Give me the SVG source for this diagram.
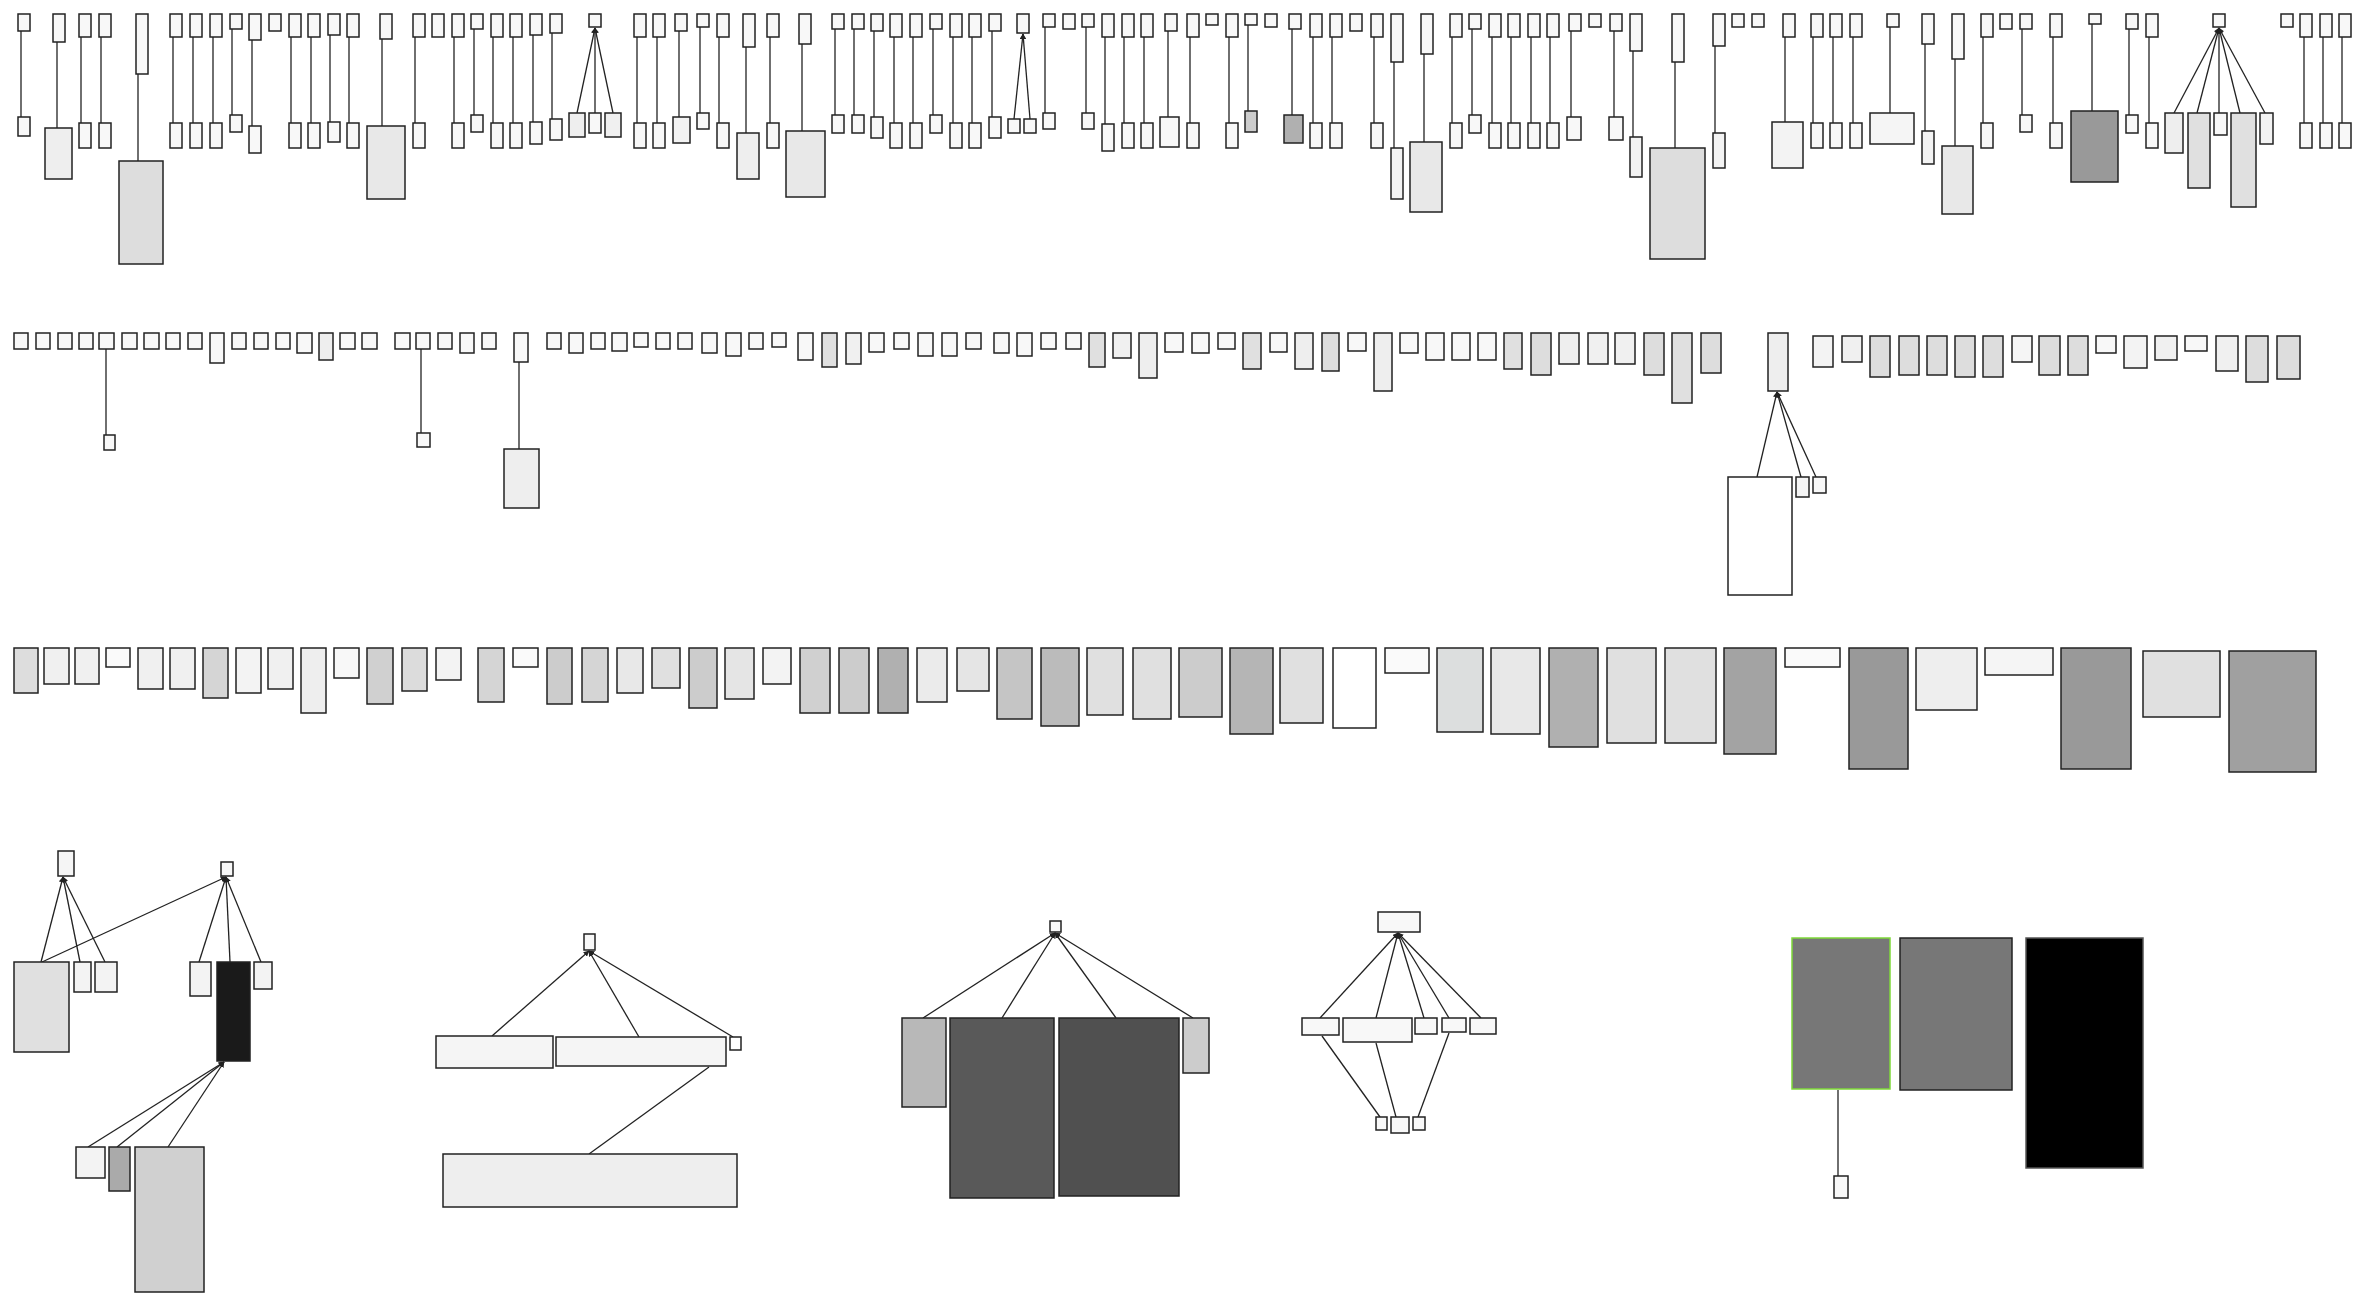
<svg xmlns="http://www.w3.org/2000/svg" width="2369" height="1295" viewBox="0 0 2369 1295">
<style>
rect{fill:#f8f8f8;stroke:#222;stroke-width:1.5}
.e line{stroke:#222;stroke-width:1.3;fill:none}
.f line{marker-end:url(#ar)}
</style>
<defs>
<marker id="ar" viewBox="0 0 10 10" refX="9" refY="5" markerWidth="4.5" markerHeight="4.5" orient="auto"><path d="M0,0L10,5L0,10z" fill="#222"/></marker>
</defs>
<rect x="0" y="0" width="2369" height="1295" style="fill:#fff;stroke:none"/>
<g id="edges" class="e">
<line x1="21" y1="31" x2="21" y2="117"/>
<line x1="57" y1="42" x2="57" y2="128"/>
<line x1="81" y1="37" x2="81" y2="123"/>
<line x1="101" y1="37" x2="101" y2="123"/>
<line x1="138" y1="74" x2="138" y2="161"/>
<line x1="173" y1="37" x2="173" y2="123"/>
<line x1="193" y1="37" x2="193" y2="123"/>
<line x1="213" y1="37" x2="213" y2="123"/>
<line x1="232" y1="29" x2="232" y2="115"/>
<line x1="252" y1="40" x2="252" y2="126"/>
<line x1="291" y1="37" x2="291" y2="123"/>
<line x1="311" y1="37" x2="311" y2="123"/>
<line x1="330" y1="35" x2="330" y2="122"/>
<line x1="349" y1="37" x2="349" y2="123"/>
<line x1="382" y1="39" x2="382" y2="126"/>
<line x1="415" y1="37" x2="415" y2="123"/>
<line x1="454" y1="37" x2="454" y2="123"/>
<line x1="474" y1="29" x2="474" y2="115"/>
<line x1="493" y1="37" x2="493" y2="123"/>
<line x1="513" y1="37" x2="513" y2="123"/>
<line x1="533" y1="35" x2="533" y2="122"/>
<line x1="552" y1="33" x2="552" y2="119"/>
<line x1="637" y1="37" x2="637" y2="123"/>
<line x1="657" y1="37" x2="657" y2="123"/>
<line x1="679" y1="31" x2="679" y2="117"/>
<line x1="700" y1="27" x2="700" y2="113"/>
<line x1="719" y1="37" x2="719" y2="123"/>
<line x1="746" y1="47" x2="746" y2="133"/>
<line x1="770" y1="37" x2="770" y2="123"/>
<line x1="802" y1="44" x2="802" y2="131"/>
<line x1="835" y1="29" x2="835" y2="115"/>
<line x1="854" y1="29" x2="854" y2="115"/>
<line x1="874" y1="31" x2="874" y2="117"/>
<line x1="894" y1="37" x2="894" y2="123"/>
<line x1="913" y1="37" x2="913" y2="123"/>
<line x1="933" y1="29" x2="933" y2="115"/>
<line x1="953" y1="37" x2="953" y2="123"/>
<line x1="972" y1="37" x2="972" y2="123"/>
<line x1="992" y1="31" x2="992" y2="117"/>
<line x1="1045" y1="27" x2="1045" y2="113"/>
<line x1="1086" y1="27" x2="1086" y2="113"/>
<line x1="1105" y1="37" x2="1105" y2="124"/>
<line x1="1124" y1="37" x2="1124" y2="123"/>
<line x1="1144" y1="37" x2="1144" y2="123"/>
<line x1="1168" y1="31" x2="1168" y2="117"/>
<line x1="1190" y1="37" x2="1190" y2="123"/>
<line x1="1229" y1="37" x2="1229" y2="123"/>
<line x1="1248" y1="25" x2="1248" y2="111"/>
<line x1="1292" y1="29" x2="1292" y2="115"/>
<line x1="1313" y1="37" x2="1313" y2="123"/>
<line x1="1332" y1="37" x2="1332" y2="123"/>
<line x1="1374" y1="37" x2="1374" y2="123"/>
<line x1="1394" y1="62" x2="1394" y2="148"/>
<line x1="1424" y1="54" x2="1424" y2="142"/>
<line x1="1452" y1="37" x2="1452" y2="123"/>
<line x1="1472" y1="29" x2="1472" y2="115"/>
<line x1="1492" y1="37" x2="1492" y2="123"/>
<line x1="1511" y1="37" x2="1511" y2="123"/>
<line x1="1531" y1="37" x2="1531" y2="123"/>
<line x1="1550" y1="37" x2="1550" y2="123"/>
<line x1="1571" y1="31" x2="1571" y2="117"/>
<line x1="1614" y1="31" x2="1614" y2="117"/>
<line x1="1633" y1="51" x2="1633" y2="137"/>
<line x1="1675" y1="62" x2="1675" y2="148"/>
<line x1="1715" y1="46" x2="1715" y2="133"/>
<line x1="1785" y1="37" x2="1785" y2="122"/>
<line x1="1813" y1="37" x2="1813" y2="123"/>
<line x1="1833" y1="37" x2="1833" y2="123"/>
<line x1="1853" y1="37" x2="1853" y2="123"/>
<line x1="1890" y1="27" x2="1890" y2="113"/>
<line x1="1925" y1="44" x2="1925" y2="131"/>
<line x1="1955" y1="59" x2="1955" y2="146"/>
<line x1="1983" y1="37" x2="1983" y2="123"/>
<line x1="2022" y1="29" x2="2022" y2="115"/>
<line x1="2053" y1="37" x2="2053" y2="123"/>
<line x1="2092" y1="24" x2="2092" y2="111"/>
<line x1="2129" y1="29" x2="2129" y2="115"/>
<line x1="2149" y1="37" x2="2149" y2="123"/>
<line x1="2304" y1="37" x2="2304" y2="123"/>
<line x1="2323" y1="37" x2="2323" y2="123"/>
<line x1="2342" y1="37" x2="2342" y2="123"/>
<line x1="106" y1="349" x2="106" y2="435"/>
<line x1="421" y1="349" x2="421" y2="433"/>
<line x1="519" y1="362" x2="519" y2="449"/>
<line x1="1838" y1="1090" x2="1838" y2="1176"/>
<line x1="589" y1="1154" x2="709" y2="1067"/>
<line x1="1380" y1="1117" x2="1322" y2="1036"/>
<line x1="1396" y1="1117" x2="1376" y2="1043"/>
<line x1="1418" y1="1117" x2="1449" y2="1033"/>
<g class="f">
<line x1="577" y1="113" x2="595" y2="28"/>
<line x1="595" y1="113" x2="595" y2="28"/>
<line x1="613" y1="113" x2="595" y2="28"/>
<line x1="1014" y1="119" x2="1023" y2="34"/>
<line x1="1030" y1="119" x2="1023" y2="34"/>
<line x1="2174" y1="113" x2="2219" y2="28"/>
<line x1="2197" y1="113" x2="2219" y2="28"/>
<line x1="2219" y1="113" x2="2219" y2="28"/>
<line x1="2240" y1="113" x2="2219" y2="28"/>
<line x1="2265" y1="113" x2="2219" y2="28"/>
<line x1="1757" y1="477" x2="1777" y2="392"/>
<line x1="1801" y1="477" x2="1777" y2="392"/>
<line x1="1816" y1="477" x2="1777" y2="392"/>
<line x1="41" y1="962" x2="63" y2="877"/>
<line x1="80" y1="962" x2="63" y2="877"/>
<line x1="105" y1="962" x2="63" y2="877"/>
<line x1="42" y1="962" x2="226" y2="877"/>
<line x1="199" y1="962" x2="226" y2="877"/>
<line x1="230" y1="962" x2="226" y2="877"/>
<line x1="261" y1="962" x2="226" y2="877"/>
<line x1="88" y1="1147" x2="224" y2="1062"/>
<line x1="117" y1="1147" x2="224" y2="1062"/>
<line x1="168" y1="1147" x2="224" y2="1062"/>
<line x1="492" y1="1036" x2="589" y2="951"/>
<line x1="639" y1="1037" x2="589" y2="951"/>
<line x1="733" y1="1037" x2="589" y2="951"/>
<line x1="923" y1="1018" x2="1055" y2="933"/>
<line x1="1002" y1="1018" x2="1055" y2="933"/>
<line x1="1116" y1="1018" x2="1055" y2="933"/>
<line x1="1193" y1="1018" x2="1055" y2="933"/>
<line x1="1320" y1="1018" x2="1398" y2="933"/>
<line x1="1376" y1="1018" x2="1398" y2="933"/>
<line x1="1424" y1="1018" x2="1398" y2="933"/>
<line x1="1449" y1="1018" x2="1398" y2="933"/>
<line x1="1481" y1="1018" x2="1398" y2="933"/>
</g>
</g>
<g id="row1">
<g id="a1"><rect x="18" y="14" width="12" height="17"/></g><g id="b1"><rect x="18" y="117" width="12" height="19"/></g>
<g id="a2"><rect x="53" y="14" width="12" height="28"/></g><g id="b2"><rect x="45" y="128" width="27" height="51" style="fill:#eee"/></g>
<g id="a3"><rect x="79" y="14" width="12" height="23"/></g><g id="b3"><rect x="79" y="123" width="12" height="25"/></g>
<g id="a4"><rect x="99" y="14" width="12" height="23"/></g><g id="b4"><rect x="99" y="123" width="12" height="25"/></g>
<g id="a5"><rect x="136" y="14" width="12" height="60"/></g><g id="b5"><rect x="119" y="161" width="44" height="103" style="fill:#ddd"/></g>
<g id="a6"><rect x="170" y="14" width="12" height="23"/></g><g id="b6"><rect x="170" y="123" width="12" height="25"/></g>
<g id="a7"><rect x="190" y="14" width="12" height="23"/></g><g id="b7"><rect x="190" y="123" width="12" height="25"/></g>
<g id="a8"><rect x="210" y="14" width="12" height="23"/></g><g id="b8"><rect x="210" y="123" width="12" height="25"/></g>
<g id="a9"><rect x="230" y="14" width="12" height="15"/></g><g id="b9"><rect x="230" y="115" width="12" height="17"/></g>
<g id="a10"><rect x="249" y="14" width="12" height="26"/></g><g id="b10"><rect x="249" y="126" width="12" height="27"/></g>
<g id="a11"><rect x="269" y="14" width="12" height="17"/></g>
<g id="a12"><rect x="289" y="14" width="12" height="23"/></g><g id="b12"><rect x="289" y="123" width="12" height="25"/></g>
<g id="a13"><rect x="308" y="14" width="12" height="23"/></g><g id="b13"><rect x="308" y="123" width="12" height="25"/></g>
<g id="a14"><rect x="328" y="14" width="12" height="21"/></g><g id="b14"><rect x="328" y="122" width="12" height="20"/></g>
<g id="a15"><rect x="347" y="14" width="12" height="23"/></g><g id="b15"><rect x="347" y="123" width="12" height="25"/></g>
<g id="a16"><rect x="380" y="14" width="12" height="25"/></g><g id="b16"><rect x="367" y="126" width="38" height="73" style="fill:#e8e8e8"/></g>
<g id="a17"><rect x="413" y="14" width="12" height="23"/></g><g id="b17"><rect x="413" y="123" width="12" height="25"/></g>
<g id="a18"><rect x="432" y="14" width="12" height="23"/></g>
<g id="a19"><rect x="452" y="14" width="12" height="23"/></g><g id="b19"><rect x="452" y="123" width="12" height="25"/></g>
<g id="a20"><rect x="471" y="14" width="12" height="15"/></g><g id="b20"><rect x="471" y="115" width="12" height="17"/></g>
<g id="a21"><rect x="491" y="14" width="12" height="23"/></g><g id="b21"><rect x="491" y="123" width="12" height="25"/></g>
<g id="a22"><rect x="510" y="14" width="12" height="23"/></g><g id="b22"><rect x="510" y="123" width="12" height="25"/></g>
<g id="a23"><rect x="530" y="14" width="12" height="21"/></g><g id="b23"><rect x="530" y="122" width="12" height="22"/></g>
<g id="a24"><rect x="550" y="14" width="12" height="19"/></g><g id="b24"><rect x="550" y="119" width="12" height="21"/></g>
<g id="a25"><rect x="589" y="14" width="12" height="13"/></g>
<g id="b25a"><rect x="569" y="113" width="16" height="24" style="fill:#eee"/></g>
<g id="b25b"><rect x="589" y="113" width="12" height="20"/></g>
<g id="b25c"><rect x="605" y="113" width="16" height="24" style="fill:#f0f0f0"/></g>
<g id="a26"><rect x="634" y="14" width="12" height="23"/></g><g id="b26"><rect x="634" y="123" width="12" height="25"/></g>
<g id="a27"><rect x="653" y="14" width="12" height="23"/></g><g id="b27"><rect x="653" y="123" width="12" height="25"/></g>
<g id="a28"><rect x="675" y="14" width="12" height="17"/></g><g id="b28"><rect x="673" y="117" width="17" height="26" style="fill:#f3f3f3"/></g>
<g id="a29"><rect x="697" y="14" width="12" height="13"/></g><g id="b29"><rect x="697" y="113" width="12" height="16"/></g>
<g id="a30"><rect x="717" y="14" width="12" height="23"/></g><g id="b30"><rect x="717" y="123" width="12" height="25"/></g>
<g id="a31"><rect x="743" y="14" width="12" height="33"/></g><g id="b31"><rect x="737" y="133" width="22" height="46" style="fill:#eee"/></g>
<g id="a32"><rect x="767" y="14" width="12" height="23"/></g><g id="b32"><rect x="767" y="123" width="12" height="25"/></g>
<g id="a33"><rect x="799" y="14" width="12" height="30"/></g><g id="b33"><rect x="786" y="131" width="39" height="66" style="fill:#e8e8e8"/></g>
<g id="a34"><rect x="832" y="14" width="12" height="15"/></g><g id="b34"><rect x="832" y="115" width="12" height="18"/></g>
<g id="a35"><rect x="852" y="14" width="12" height="15"/></g><g id="b35"><rect x="852" y="115" width="12" height="18"/></g>
<g id="a36"><rect x="871" y="14" width="12" height="17"/></g><g id="b36"><rect x="871" y="117" width="12" height="21"/></g>
<g id="a37"><rect x="890" y="14" width="12" height="23"/></g><g id="b37"><rect x="890" y="123" width="12" height="25"/></g>
<g id="a38"><rect x="910" y="14" width="12" height="23"/></g><g id="b38"><rect x="910" y="123" width="12" height="25"/></g>
<g id="a39"><rect x="930" y="14" width="12" height="15"/></g><g id="b39"><rect x="930" y="115" width="12" height="18"/></g>
<g id="a40"><rect x="950" y="14" width="12" height="23"/></g><g id="b40"><rect x="950" y="123" width="12" height="25"/></g>
<g id="a41"><rect x="969" y="14" width="12" height="23"/></g><g id="b41"><rect x="969" y="123" width="12" height="25"/></g>
<g id="a42"><rect x="989" y="14" width="12" height="17"/></g><g id="b42"><rect x="989" y="117" width="12" height="21"/></g>
<g id="a43"><rect x="1017" y="14" width="12" height="19"/></g>
<g id="b43a"><rect x="1008" y="119" width="12" height="14"/></g><g id="b43b"><rect x="1024" y="119" width="12" height="14"/></g>
<g id="a44"><rect x="1043" y="14" width="12" height="13"/></g><g id="b44"><rect x="1043" y="113" width="12" height="16"/></g>
<g id="a45"><rect x="1063" y="14" width="12" height="15"/></g>
<g id="a46"><rect x="1082" y="14" width="12" height="13"/></g><g id="b46"><rect x="1082" y="113" width="12" height="16"/></g>
<g id="a47"><rect x="1102" y="14" width="12" height="23"/></g><g id="b47"><rect x="1102" y="124" width="12" height="27"/></g>
<g id="a48"><rect x="1122" y="14" width="12" height="23"/></g><g id="b48"><rect x="1122" y="123" width="12" height="25"/></g>
<g id="a49"><rect x="1141" y="14" width="12" height="23"/></g><g id="b49"><rect x="1141" y="123" width="12" height="25"/></g>
<g id="a50"><rect x="1165" y="14" width="12" height="17"/></g><g id="b50"><rect x="1160" y="117" width="19" height="30"/></g>
<g id="a51"><rect x="1187" y="14" width="12" height="23"/></g><g id="b51"><rect x="1187" y="123" width="12" height="25"/></g>
<g id="a52"><rect x="1206" y="14" width="12" height="11"/></g>
<g id="a53"><rect x="1226" y="14" width="12" height="23"/></g><g id="b53"><rect x="1226" y="123" width="12" height="25"/></g>
<g id="a54"><rect x="1245" y="14" width="12" height="11"/></g><g id="b54"><rect x="1245" y="111" width="12" height="21" style="fill:#ccc"/></g>
<g id="a55"><rect x="1265" y="14" width="12" height="13"/></g>
<g id="a56"><rect x="1289" y="14" width="12" height="15"/></g><g id="b56"><rect x="1284" y="115" width="19" height="28" style="fill:#b0b0b0"/></g>
<g id="a57"><rect x="1310" y="14" width="12" height="23"/></g><g id="b57"><rect x="1310" y="123" width="12" height="25"/></g>
<g id="a58"><rect x="1330" y="14" width="12" height="23"/></g><g id="b58"><rect x="1330" y="123" width="12" height="25"/></g>
<g id="a59"><rect x="1350" y="14" width="12" height="17"/></g>
<g id="a60"><rect x="1371" y="14" width="12" height="23"/></g><g id="b60"><rect x="1371" y="123" width="12" height="25"/></g>
<g id="a61"><rect x="1391" y="14" width="12" height="48"/></g><g id="b61"><rect x="1391" y="148" width="12" height="51" style="fill:#f3f3f3"/></g>
<g id="a62"><rect x="1421" y="14" width="12" height="40"/></g><g id="b62"><rect x="1410" y="142" width="32" height="70" style="fill:#e8e8e8"/></g>
<g id="a63"><rect x="1450" y="14" width="12" height="23"/></g><g id="b63"><rect x="1450" y="123" width="12" height="25"/></g>
<g id="a64"><rect x="1469" y="14" width="12" height="15"/></g><g id="b64"><rect x="1469" y="115" width="12" height="18"/></g>
<g id="a65"><rect x="1489" y="14" width="12" height="23"/></g><g id="b65"><rect x="1489" y="123" width="12" height="25"/></g>
<g id="a66"><rect x="1508" y="14" width="12" height="23"/></g><g id="b66"><rect x="1508" y="123" width="12" height="25"/></g>
<g id="a67"><rect x="1528" y="14" width="12" height="23"/></g><g id="b67"><rect x="1528" y="123" width="12" height="25"/></g>
<g id="a68"><rect x="1547" y="14" width="12" height="23"/></g><g id="b68"><rect x="1547" y="123" width="12" height="25"/></g>
<g id="a69"><rect x="1569" y="14" width="12" height="17"/></g><g id="b69"><rect x="1567" y="117" width="14" height="23"/></g>
<g id="a70"><rect x="1589" y="14" width="12" height="13"/></g>
<g id="a71"><rect x="1610" y="14" width="12" height="17"/></g><g id="b71"><rect x="1609" y="117" width="14" height="23"/></g>
<g id="a72"><rect x="1630" y="14" width="12" height="37"/></g><g id="b72"><rect x="1630" y="137" width="12" height="40" style="fill:#f3f3f3"/></g>
<g id="a73"><rect x="1672" y="14" width="12" height="48"/></g><g id="b73"><rect x="1650" y="148" width="55" height="111" style="fill:#ddd"/></g>
<g id="a74"><rect x="1713" y="14" width="12" height="32"/></g><g id="b74"><rect x="1713" y="133" width="12" height="35" style="fill:#f3f3f3"/></g>
<g id="a75"><rect x="1732" y="14" width="12" height="13"/></g>
<g id="a76"><rect x="1752" y="14" width="12" height="13"/></g>
<g id="a77"><rect x="1783" y="14" width="12" height="23"/></g><g id="b77"><rect x="1772" y="122" width="31" height="46" style="fill:#f3f3f3"/></g>
<g id="a78"><rect x="1811" y="14" width="12" height="23"/></g><g id="b78"><rect x="1811" y="123" width="12" height="25"/></g>
<g id="a79"><rect x="1830" y="14" width="12" height="23"/></g><g id="b79"><rect x="1830" y="123" width="12" height="25"/></g>
<g id="a80"><rect x="1850" y="14" width="12" height="23"/></g><g id="b80"><rect x="1850" y="123" width="12" height="25"/></g>
<g id="a81"><rect x="1887" y="14" width="12" height="13"/></g><g id="b81"><rect x="1870" y="113" width="44" height="31" style="fill:#f5f5f5"/></g>
<g id="a82"><rect x="1922" y="14" width="12" height="30"/></g><g id="b82"><rect x="1922" y="131" width="12" height="33" style="fill:#f3f3f3"/></g>
<g id="a83"><rect x="1952" y="14" width="12" height="45"/></g><g id="b83"><rect x="1942" y="146" width="31" height="68" style="fill:#e8e8e8"/></g>
<g id="a84"><rect x="1981" y="14" width="12" height="23"/></g><g id="b84"><rect x="1981" y="123" width="12" height="25"/></g>
<g id="a85"><rect x="2000" y="14" width="12" height="15"/></g>
<g id="a86"><rect x="2020" y="14" width="12" height="15"/></g><g id="b86"><rect x="2020" y="115" width="12" height="17"/></g>
<g id="a87"><rect x="2050" y="14" width="12" height="23"/></g><g id="b87"><rect x="2050" y="123" width="12" height="25"/></g>
<g id="a88"><rect x="2089" y="14" width="12" height="10"/></g><g id="b88"><rect x="2071" y="111" width="47" height="71" style="fill:#999"/></g>
<g id="a89"><rect x="2126" y="14" width="12" height="15"/></g><g id="b89"><rect x="2126" y="115" width="12" height="18"/></g>
<g id="a90"><rect x="2146" y="14" width="12" height="23"/></g><g id="b90"><rect x="2146" y="123" width="12" height="25"/></g>
<g id="a91"><rect x="2213" y="14" width="12" height="13"/></g>
<g id="b91a"><rect x="2165" y="113" width="18" height="40" style="fill:#eee"/></g>
<g id="b91b"><rect x="2188" y="113" width="22" height="75" style="fill:#e0e0e0"/></g>
<g id="b91c"><rect x="2214" y="113" width="13" height="22"/></g>
<g id="b91d"><rect x="2231" y="113" width="25" height="94" style="fill:#e0e0e0"/></g>
<g id="b91e"><rect x="2260" y="113" width="13" height="31" style="fill:#f3f3f3"/></g>
<g id="a92"><rect x="2281" y="14" width="12" height="13"/></g>
<g id="a93"><rect x="2300" y="14" width="12" height="23"/></g><g id="b93"><rect x="2300" y="123" width="12" height="25"/></g>
<g id="a94"><rect x="2320" y="14" width="12" height="23"/></g><g id="b94"><rect x="2320" y="123" width="12" height="25"/></g>
<g id="a95"><rect x="2339" y="14" width="12" height="23"/></g><g id="b95"><rect x="2339" y="123" width="12" height="25"/></g>
</g>
<g id="row2">
<g id="c1"><rect x="14" y="333" width="14" height="16"/></g>
<g id="c2"><rect x="36" y="333" width="14" height="16"/></g>
<g id="c3"><rect x="58" y="333" width="14" height="16"/></g>
<g id="c4"><rect x="79" y="333" width="14" height="16"/></g>
<g id="c5"><rect x="99" y="333" width="15" height="16"/></g>
<g id="c5k"><rect x="104" y="435" width="11" height="15"/></g>
<g id="c6"><rect x="122" y="333" width="15" height="16"/></g>
<g id="c7"><rect x="144" y="333" width="15" height="16"/></g>
<g id="c8"><rect x="166" y="333" width="14" height="16"/></g>
<g id="c9"><rect x="188" y="333" width="14" height="16"/></g>
<g id="c10"><rect x="210" y="333" width="14" height="30"/></g>
<g id="c11"><rect x="232" y="333" width="14" height="16"/></g>
<g id="c12"><rect x="254" y="333" width="14" height="16"/></g>
<g id="c13"><rect x="276" y="333" width="14" height="16"/></g>
<g id="c14"><rect x="297" y="333" width="15" height="20"/></g>
<g id="c15"><rect x="319" y="333" width="14" height="27" style="fill:#eee"/></g>
<g id="c16"><rect x="340" y="333" width="15" height="16"/></g>
<g id="c17"><rect x="362" y="333" width="15" height="16"/></g>
<g id="c18"><rect x="395" y="333" width="15" height="16"/></g>
<g id="c19"><rect x="416" y="333" width="14" height="16"/></g>
<g id="c19k"><rect x="417" y="433" width="13" height="14"/></g>
<g id="c20"><rect x="438" y="333" width="14" height="16"/></g>
<g id="c21"><rect x="460" y="333" width="14" height="20"/></g>
<g id="c22"><rect x="482" y="333" width="14" height="16"/></g>
<g id="c23"><rect x="514" y="333" width="14" height="29"/></g>
<g id="c23k"><rect x="504" y="449" width="35" height="59" style="fill:#eee"/></g>
<g id="c24"><rect x="547" y="333" width="14" height="16"/></g>
<g id="c25"><rect x="569" y="333" width="14" height="20"/></g>
<g id="c26"><rect x="591" y="333" width="14" height="16"/></g>
<g id="c27"><rect x="612" y="333" width="15" height="18"/></g>
<g id="c28"><rect x="634" y="333" width="14" height="14"/></g>
<g id="c29"><rect x="656" y="333" width="14" height="16"/></g>
<g id="c30"><rect x="678" y="333" width="14" height="16"/></g>
<g id="c31"><rect x="702" y="333" width="15" height="20"/></g>
<g id="c32"><rect x="726" y="333" width="15" height="23"/></g>
<g id="c33"><rect x="749" y="333" width="14" height="16"/></g>
<g id="c34"><rect x="772" y="333" width="14" height="14"/></g>
<g id="c35"><rect x="798" y="333" width="15" height="27"/></g>
<g id="c36"><rect x="822" y="333" width="15" height="34" style="fill:#e0e0e0"/></g>
<g id="c37"><rect x="846" y="333" width="15" height="31" style="fill:#f0f0f0"/></g>
<g id="c38"><rect x="869" y="333" width="15" height="19"/></g>
<g id="c39"><rect x="894" y="333" width="15" height="16"/></g>
<g id="c40"><rect x="918" y="333" width="15" height="23"/></g>
<g id="c41"><rect x="942" y="333" width="15" height="23"/></g>
<g id="c42"><rect x="966" y="333" width="15" height="16"/></g>
<g id="c43"><rect x="994" y="333" width="15" height="20"/></g>
<g id="c44"><rect x="1017" y="333" width="15" height="23"/></g>
<g id="c45"><rect x="1041" y="333" width="15" height="16"/></g>
<g id="c46"><rect x="1066" y="333" width="15" height="16"/></g>
<g id="c47"><rect x="1089" y="333" width="16" height="34" style="fill:#e0e0e0"/></g>
<g id="c48"><rect x="1113" y="333" width="18" height="25" style="fill:#f0f0f0"/></g>
<g id="c49"><rect x="1139" y="333" width="18" height="45" style="fill:#eee"/></g>
<g id="c50"><rect x="1165" y="333" width="18" height="19"/></g>
<g id="c51"><rect x="1192" y="333" width="17" height="20"/></g>
<g id="c52"><rect x="1218" y="333" width="17" height="16"/></g>
<g id="c53"><rect x="1243" y="333" width="18" height="36" style="fill:#e0e0e0"/></g>
<g id="c54"><rect x="1270" y="333" width="17" height="19"/></g>
<g id="c55"><rect x="1295" y="333" width="18" height="36" style="fill:#eee"/></g>
<g id="c56"><rect x="1322" y="333" width="17" height="38" style="fill:#ddd"/></g>
<g id="c57"><rect x="1348" y="333" width="18" height="18"/></g>
<g id="c58"><rect x="1374" y="333" width="18" height="58" style="fill:#eee"/></g>
<g id="c59"><rect x="1400" y="333" width="18" height="20"/></g>
<g id="c60"><rect x="1426" y="333" width="18" height="27"/></g>
<g id="c61"><rect x="1452" y="333" width="18" height="27"/></g>
<g id="c62"><rect x="1478" y="333" width="18" height="27"/></g>
<g id="c63"><rect x="1504" y="333" width="18" height="36" style="fill:#e0e0e0"/></g>
<g id="c64"><rect x="1531" y="333" width="20" height="42" style="fill:#ddd"/></g>
<g id="c65"><rect x="1559" y="333" width="20" height="31" style="fill:#eee"/></g>
<g id="c66"><rect x="1588" y="333" width="20" height="31" style="fill:#f0f0f0"/></g>
<g id="c67"><rect x="1615" y="333" width="20" height="31" style="fill:#f0f0f0"/></g>
<g id="c68"><rect x="1644" y="333" width="20" height="42" style="fill:#ddd"/></g>
<g id="c69"><rect x="1672" y="333" width="20" height="70" style="fill:#e0e0e0"/></g>
<g id="c70"><rect x="1701" y="333" width="20" height="40" style="fill:#ddd"/></g>
<g id="c71"><rect x="1768" y="333" width="20" height="58" style="fill:#eee"/></g>
<g id="c71a"><rect x="1728" y="477" width="64" height="118" style="fill:#fff"/></g>
<g id="c71b"><rect x="1796" y="477" width="13" height="20" style="fill:#f5f5f5"/></g>
<g id="c71c"><rect x="1813" y="477" width="13" height="16"/></g>
<g id="c72"><rect x="1813" y="336" width="20" height="31" style="fill:#f3f3f3"/></g>
<g id="c73"><rect x="1842" y="336" width="20" height="26" style="fill:#f0f0f0"/></g>
<g id="c74"><rect x="1870" y="336" width="20" height="41" style="fill:#ddd"/></g>
<g id="c75"><rect x="1899" y="336" width="20" height="39" style="fill:#ddd"/></g>
<g id="c76"><rect x="1927" y="336" width="20" height="39" style="fill:#ddd"/></g>
<g id="c77"><rect x="1955" y="336" width="20" height="41" style="fill:#ddd"/></g>
<g id="c78"><rect x="1983" y="336" width="20" height="41" style="fill:#ddd"/></g>
<g id="c79"><rect x="2012" y="336" width="20" height="26" style="fill:#f5f5f5"/></g>
<g id="c80"><rect x="2039" y="336" width="21" height="39" style="fill:#ddd"/></g>
<g id="c81"><rect x="2068" y="336" width="20" height="39" style="fill:#ddd"/></g>
<g id="c82"><rect x="2096" y="336" width="20" height="17"/></g>
<g id="c83"><rect x="2124" y="336" width="23" height="32" style="fill:#f3f3f3"/></g>
<g id="c84"><rect x="2155" y="336" width="22" height="24" style="fill:#f0f0f0"/></g>
<g id="c85"><rect x="2185" y="336" width="22" height="15"/></g>
<g id="c86"><rect x="2216" y="336" width="22" height="35" style="fill:#f0f0f0"/></g>
<g id="c87"><rect x="2246" y="336" width="22" height="46" style="fill:#ddd"/></g>
<g id="c88"><rect x="2277" y="336" width="23" height="43" style="fill:#ddd"/></g>
</g>
<g id="row3">
<g id="d1"><rect x="14" y="648" width="24" height="45" style="fill:#ddd"/></g>
<g id="d2"><rect x="44" y="648" width="25" height="36" style="fill:#f0f0f0"/></g>
<g id="d3"><rect x="75" y="648" width="24" height="36" style="fill:#f0f0f0"/></g>
<g id="d4"><rect x="106" y="648" width="24" height="19" style="fill:#fafafa"/></g>
<g id="d5"><rect x="138" y="648" width="25" height="41" style="fill:#f0f0f0"/></g>
<g id="d6"><rect x="170" y="648" width="25" height="41" style="fill:#f0f0f0"/></g>
<g id="d7"><rect x="203" y="648" width="25" height="50" style="fill:#d5d5d5"/></g>
<g id="d8"><rect x="236" y="648" width="25" height="45" style="fill:#f3f3f3"/></g>
<g id="d9"><rect x="268" y="648" width="25" height="41" style="fill:#f0f0f0"/></g>
<g id="d10"><rect x="301" y="648" width="25" height="65" style="fill:#eee"/></g>
<g id="d11"><rect x="334" y="648" width="25" height="30" style="fill:#f8f8f8"/></g>
<g id="d12"><rect x="367" y="648" width="26" height="56" style="fill:#d0d0d0"/></g>
<g id="d13"><rect x="402" y="648" width="25" height="43" style="fill:#dcdcdc"/></g>
<g id="d14"><rect x="436" y="648" width="25" height="32" style="fill:#f3f3f3"/></g>
<g id="d15"><rect x="478" y="648" width="26" height="54" style="fill:#d5d5d5"/></g>
<g id="d16"><rect x="513" y="648" width="25" height="19" style="fill:#fafafa"/></g>
<g id="d17"><rect x="547" y="648" width="25" height="56" style="fill:#ccc"/></g>
<g id="d18"><rect x="582" y="648" width="26" height="54" style="fill:#d5d5d5"/></g>
<g id="d19"><rect x="617" y="648" width="26" height="45" style="fill:#e8e8e8"/></g>
<g id="d20"><rect x="652" y="648" width="28" height="40" style="fill:#e0e0e0"/></g>
<g id="d21"><rect x="689" y="648" width="28" height="60" style="fill:#ccc"/></g>
<g id="d22"><rect x="725" y="648" width="29" height="51" style="fill:#e5e5e5"/></g>
<g id="d23"><rect x="763" y="648" width="28" height="36" style="fill:#f3f3f3"/></g>
<g id="d24"><rect x="800" y="648" width="30" height="65" style="fill:#d0d0d0"/></g>
<g id="d25"><rect x="839" y="648" width="30" height="65" style="fill:#ccc"/></g>
<g id="d26"><rect x="878" y="648" width="30" height="65" style="fill:#b0b0b0"/></g>
<g id="d27"><rect x="917" y="648" width="30" height="54" style="fill:#ebebeb"/></g>
<g id="d28"><rect x="957" y="648" width="32" height="43" style="fill:#e5e5e5"/></g>
<g id="d29"><rect x="997" y="648" width="35" height="71" style="fill:#c5c5c5"/></g>
<g id="d30"><rect x="1041" y="648" width="38" height="78" style="fill:#bbb"/></g>
<g id="d31"><rect x="1087" y="648" width="36" height="67" style="fill:#e0e0e0"/></g>
<g id="d32"><rect x="1133" y="648" width="38" height="71" style="fill:#e0e0e0"/></g>
<g id="d33"><rect x="1179" y="648" width="43" height="69" style="fill:#ccc"/></g>
<g id="d34"><rect x="1230" y="648" width="43" height="86" style="fill:#b5b5b5"/></g>
<g id="d35"><rect x="1280" y="648" width="43" height="75" style="fill:#e0e0e0"/></g>
<g id="d36"><rect x="1333" y="648" width="43" height="80" style="fill:#fff"/></g>
<g id="d37"><rect x="1385" y="648" width="44" height="25" style="fill:#fafafa"/></g>
<g id="d38"><rect x="1437" y="648" width="46" height="84" style="fill:#dcdede"/></g>
<g id="d39"><rect x="1491" y="648" width="49" height="86" style="fill:#e8e8e8"/></g>
<g id="d40"><rect x="1549" y="648" width="49" height="99" style="fill:#b0b0b0"/></g>
<g id="d41"><rect x="1607" y="648" width="49" height="95" style="fill:#e0e0e0"/></g>
<g id="d42"><rect x="1665" y="648" width="51" height="95" style="fill:#e0e0e0"/></g>
<g id="d43"><rect x="1724" y="648" width="52" height="106" style="fill:#a3a3a3"/></g>
<g id="d44"><rect x="1785" y="648" width="55" height="19" style="fill:#fafafa"/></g>
<g id="d45"><rect x="1849" y="648" width="59" height="121" style="fill:#999"/></g>
<g id="d46"><rect x="1916" y="648" width="61" height="62" style="fill:#eee"/></g>
<g id="d47"><rect x="1985" y="648" width="68" height="27" style="fill:#f5f5f5"/></g>
<g id="d48"><rect x="2061" y="648" width="70" height="121" style="fill:#999"/></g>
<g id="d49"><rect x="2143" y="651" width="77" height="66" style="fill:#e0e0e0"/></g>
<g id="d50"><rect x="2229" y="651" width="87" height="121" style="fill:#a0a0a0"/></g>
</g>
<g id="row4">
<g id="p1"><rect x="58" y="851" width="16" height="25" style="fill:#f5f5f5"/></g>
<g id="p2"><rect x="221" y="862" width="12" height="14"/></g>
<g id="pa1"><rect x="14" y="962" width="55" height="90" style="fill:#e0e0e0"/></g>
<g id="pa2"><rect x="74" y="962" width="17" height="30" style="fill:#f3f3f3"/></g>
<g id="pa3"><rect x="95" y="962" width="22" height="30" style="fill:#f3f3f3"/></g>
<g id="pb1"><rect x="190" y="962" width="21" height="34" style="fill:#f3f3f3"/></g>
<g id="pb2"><rect x="217" y="962" width="33" height="99" style="fill:#1a1a1a"/></g>
<g id="pb3"><rect x="254" y="962" width="18" height="27" style="fill:#f3f3f3"/></g>
<g id="pc1"><rect x="76" y="1147" width="29" height="31" style="fill:#f3f3f3"/></g>
<g id="pc2"><rect x="109" y="1147" width="21" height="44" style="fill:#aaa"/></g>
<g id="pc3"><rect x="135" y="1147" width="69" height="145" style="fill:#d0d0d0"/></g>
<g id="q0"><rect x="584" y="934" width="11" height="16"/></g>
<g id="q1"><rect x="436" y="1036" width="117" height="32" style="fill:#f5f5f5"/></g>
<g id="q2"><rect x="556" y="1037" width="170" height="29" style="fill:#f5f5f5"/></g>
<g id="q3"><rect x="730" y="1037" width="11" height="13" style="fill:#fff"/></g>
<g id="q4"><rect x="443" y="1154" width="294" height="53" style="fill:#eee"/></g>
<g id="s0"><rect x="1050" y="921" width="11" height="11"/></g>
<g id="s1"><rect x="902" y="1018" width="44" height="89" style="fill:#b8b8b8"/></g>
<g id="s2"><rect x="950" y="1018" width="104" height="180" style="fill:#595959"/></g>
<g id="s3"><rect x="1059" y="1018" width="120" height="178" style="fill:#505050"/></g>
<g id="s4"><rect x="1183" y="1018" width="26" height="55" style="fill:#ccc"/></g>
<g id="u0"><rect x="1378" y="912" width="42" height="20"/></g>
<g id="u1"><rect x="1302" y="1018" width="37" height="17"/></g>
<g id="u2"><rect x="1343" y="1018" width="69" height="24"/></g>
<g id="u3"><rect x="1415" y="1018" width="22" height="16"/></g>
<g id="u4"><rect x="1442" y="1018" width="24" height="14"/></g>
<g id="u5"><rect x="1470" y="1018" width="26" height="16"/></g>
<g id="v1"><rect x="1376" y="1117" width="11" height="13"/></g>
<g id="v2"><rect x="1391" y="1117" width="18" height="16"/></g>
<g id="v3"><rect x="1413" y="1117" width="12" height="13"/></g>
<g id="h1"><rect x="1792" y="938" width="98" height="151" style="fill:#777;stroke:#7fd93a"/></g>
<g id="h2"><rect x="1900" y="938" width="112" height="152" style="fill:#777"/></g>
<g id="h3"><rect x="2026" y="938" width="117" height="230" style="fill:#000;stroke:#555"/></g>
<g id="h4"><rect x="1834" y="1176" width="14" height="22"/></g>
</g>
</svg>
